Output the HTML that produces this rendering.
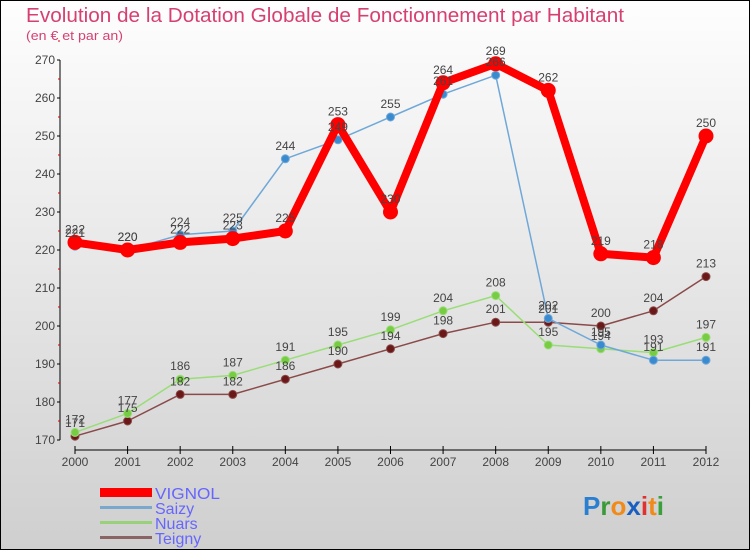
<!DOCTYPE html>
<html><head><meta charset="utf-8"><style>
body{margin:0}
#wrap{width:750px;height:550px;position:relative;overflow:hidden;font-family:"Liberation Sans",sans-serif;background:linear-gradient(#fefefe,#cfcfcf);box-sizing:border-box;border:1px solid #000}
</style></head><body>
<div id="wrap">
<svg id="chart" width="750" height="550" style="position:absolute;left:-1px;top:-1px">
<text x="26" y="22" font-size="20" fill="#d64070" textLength="598" lengthAdjust="spacingAndGlyphs">Evolution de la Dotation Globale de Fonctionnement par Habitant</text>
<text x="26" y="40" font-size="13" fill="#d64070" textLength="97" lengthAdjust="spacingAndGlyphs">(en € et par an)</text>
<g id="axes"></g><g id="series"></g><g id="labels"></g>
<g>
<rect x="100" y="488" width="52" height="9" fill="#f00"/>
<text x="155" y="499" font-size="16" fill="#6666ff" textLength="65" lengthAdjust="spacingAndGlyphs">VIGNOL</text>
<rect x="100" y="506" width="52" height="3" fill="#7aa7cc"/>
<text x="155" y="514" font-size="16" fill="#6666ff">Saizy</text>
<rect x="100" y="521" width="52" height="3" fill="#99d07a"/>
<text x="155" y="529" font-size="16" fill="#6666ff">Nuars</text>
<rect x="100" y="536" width="52" height="3" fill="#8a6464"/>
<text x="155" y="544" font-size="16" fill="#6666ff">Teigny</text>
</g>
<g font-size="26" font-weight="bold">
<text x="583" y="515"><tspan fill="#2a7fd0">P</tspan><tspan fill="#3a9a3a">r</tspan><tspan fill="#f08a1a">o</tspan><tspan fill="#1a5fc0">x</tspan><tspan fill="#e03030">i</tspan><tspan fill="#f08a1a">t</tspan><tspan fill="#3aa03a">i</tspan></text>
</g>
</svg>
</div>
<script>
const years=[2000,2001,2002,2003,2004,2005,2006,2007,2008,2009,2010,2011,2012];
const vignol=[222,220,222,223,225,253,230,264,269,262,219,218,250];
const saizy=[221,220,224,225,244,249,255,261,266,202,195,191,191];
const nuars=[172,177,186,187,191,195,199,204,208,195,194,193,197];
const teigny=[171,175,182,182,186,190,194,198,201,201,200,204,213];
const yTicks=[170,180,190,200,210,220,230,240,250,260,270];
const NS="http://www.w3.org/2000/svg";
function X(i){return 75+i*(706-75)/(years.length-1);}
function Y(v){return 440-(v-170)*3.8;}
function mk(tag,attrs,parent){const e=document.createElementNS(NS,tag);for(const k in attrs)e.setAttribute(k,attrs[k]);parent.appendChild(e);return e;}
const axes=document.getElementById('axes');
let yl=mk('line',{x1:60,y1:60,x2:60,y2:440,stroke:'#000','stroke-width':1},axes);


yTicks.forEach(v=>{
  mk('line',{x1:57,x2:60,y1:Y(v),y2:Y(v),stroke:'#000'},axes);
  mk('line',{x1:58,x2:60,y1:Y(v+5),y2:Y(v+5),stroke:'#d00'},axes);
  const t=mk('text',{x:55,y:Y(v)+4,'font-size':12,fill:'#444','text-anchor':'end'},axes);t.textContent=v;
  
  
});
let xl=mk('line',{x1:75,y1:450,x2:706,y2:450,stroke:'#000'},axes);


years.forEach((y,i)=>{
  mk('line',{x1:X(i),x2:X(i),y1:446,y2:454,stroke:'#000'},axes);
  const t=mk('text',{x:X(i),y:466,'font-size':12,fill:'#444','text-anchor':'middle'},axes);t.textContent=y;
  
  
});
const ser=document.getElementById('series'),lab=document.getElementById('labels');
function draw(name,vals,color,dot,w,r){
  const g=mk('g',{},ser);
  
  
  mk('polyline',{points:vals.map((v,i)=>X(i)+','+Y(v)).join(' '),fill:'none',stroke:color,'stroke-width':w,'stroke-linejoin':'round'},g);
  vals.forEach((v,i)=>{
    const c=mk('circle',{cx:X(i),cy:Y(v),r:r,fill:dot,stroke:color,'stroke-width':1},g);
    
    
    const t=mk('text',{x:X(i),y:Y(v)-9,'font-size':12,fill:'#444','text-anchor':'middle'},lab);t.textContent=v;
    
    
  });
}
draw('teigny',teigny,'#8a4a4a','#6a1818',1.5,4);
draw('nuars',nuars,'#99dd77','#77cc44',1.5,4);
draw('saizy',saizy,'#6fa8d8','#3a8ad0',1.5,4);
draw('vignol',vignol,'#f00','#f00',8,7);
</script>
</body></html>
